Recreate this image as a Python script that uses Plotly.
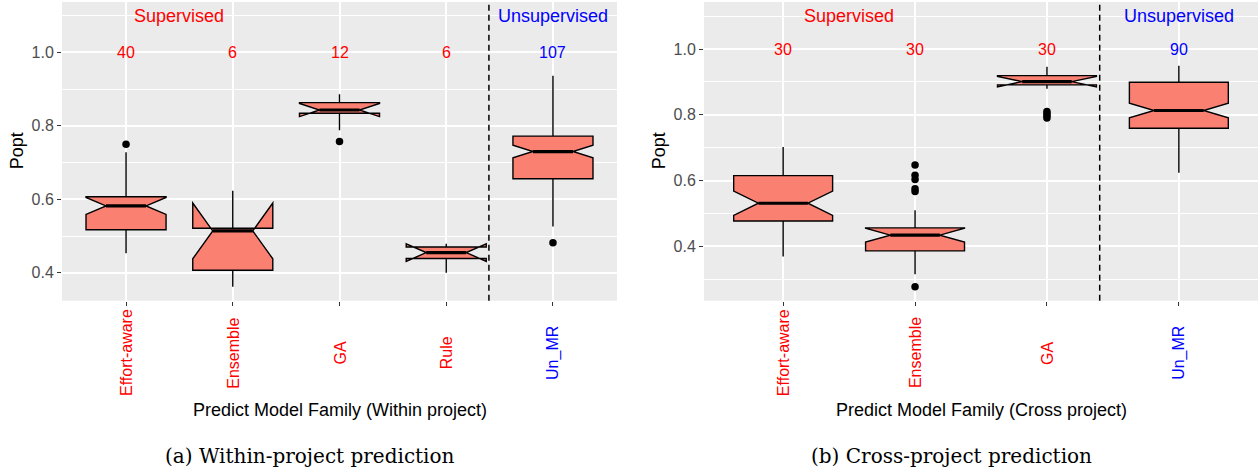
import plotly.graph_objects as go

# ---------------- data: within-project ----------------
within_cats = ["Effort-aware", "Ensemble", "GA", "Rule", "Un_MR"]
within_group = ["Supervised", "Supervised", "Supervised", "Supervised", "Unsupervised"]
within_counts = [40, 6, 12, 6, 107]
within_lowerfence = [0.453, 0.362, 0.788, 0.400, 0.526]
within_q1 = [0.517, 0.407, 0.834, 0.439, 0.656]
within_median = [0.582, 0.514, 0.843, 0.455, 0.730]
within_q3 = [0.607, 0.521, 0.863, 0.470, 0.772]
within_upperfence = [0.728, 0.623, 0.886, 0.478, 0.936]
within_notchspan = [0.023, 0.076, 0.018, 0.024, 0.017]
within_outlier_cat = ["Effort-aware", "GA", "Un_MR"]
within_outlier_val = [0.750, 0.757, 0.482]

# ---------------- data: cross-project ----------------
cross_cats = ["Effort-aware", "Ensemble", "GA", "Un_MR"]
cross_group = ["Supervised", "Supervised", "Supervised", "Unsupervised"]
cross_counts = [30, 30, 30, 90]
cross_lowerfence = [0.369, 0.315, 0.879, 0.624]
cross_q1 = [0.477, 0.386, 0.891, 0.759]
cross_median = [0.531, 0.434, 0.901, 0.813]
cross_q3 = [0.615, 0.456, 0.919, 0.899]
cross_upperfence = [0.702, 0.510, 0.946, 0.949]
cross_notchspan = [0.037, 0.021, 0.016, 0.022]
cross_outlier_cat = ["Ensemble"] * 6 + ["GA"] * 4
cross_outlier_val = [0.647, 0.616, 0.603, 0.575, 0.567, 0.277, 0.810, 0.803, 0.797, 0.790]

group_colors = {"Supervised": "#FF0000", "Unsupervised": "#0000FF"}
x_titles = ["Predict Model Family (Within project)", "Predict Model Family (Cross project)"]
captions = ["(a) Within-project prediction", "(b) Cross-project prediction"]
y_title = "Popt"

W, H = 1258, 470
BOX_W = 0.75
NOTCH_W = 0.25          # plotly: inset per side as fraction of box width
SANS = "Liberation Sans, Arial, sans-serif"
FILL = "#FA8072"

fig = go.Figure()

panels = [
    dict(cats=within_cats, grp=within_group, cnt=within_counts, lf=within_lowerfence, q1=within_q1,
         med=within_median, q3=within_q3, uf=within_upperfence, ns=within_notchspan,
         oc=within_outlier_cat, ov=within_outlier_val,
         px=(62, 617), yr=(0.324, 1.137), xa="x", ya="y"),
    dict(cats=cross_cats, grp=cross_group, cnt=cross_counts, lf=cross_lowerfence, q1=cross_q1,
         med=cross_median, q3=cross_q3, uf=cross_upperfence, ns=cross_notchspan,
         oc=cross_outlier_cat, ov=cross_outlier_val,
         px=(704, 1258), yr=(0.2346, 1.143), xa="x2", ya="y2"),
]

plot_top, plot_bot = 2, 300.7
ydom = [(H - plot_bot) / H, (H - plot_top) / H]
annotations = []
shapes = []

for i, p in enumerate(panels):
    pos = list(range(1, len(p["cats"]) + 1))
    fig.add_trace(go.Box(
        x=pos, q1=p["q1"], median=p["med"], q3=p["q3"],
        lowerfence=p["lf"], upperfence=p["uf"], notchspan=p["ns"],
        notched=True, notchwidth=NOTCH_W, width=BOX_W, whiskerwidth=0,
        fillcolor=FILL, line=dict(color="black", width=1.4),
        boxpoints=False, showlegend=False, xaxis=p["xa"], yaxis=p["ya"],
    ))
    # thick median segments (span the notch waist)
    mx, my = [], []
    half = BOX_W / 2 * (1 - 2 * NOTCH_W)
    for xp, m in zip(pos, p["med"]):
        mx += [xp - half, xp + half, None]
        my += [m, m, None]
    fig.add_trace(go.Scatter(x=mx, y=my, mode="lines", line=dict(color="black", width=3.2),
                             showlegend=False, xaxis=p["xa"], yaxis=p["ya"], hoverinfo="skip"))
    # outliers
    ox = [p["cats"].index(c) + 1 for c in p["oc"]]
    fig.add_trace(go.Scatter(x=ox, y=p["ov"], mode="markers",
                             marker=dict(color="black", size=7.5),
                             showlegend=False, xaxis=p["xa"], yaxis=p["ya"]))

    n_sup = sum(1 for g in p["grp"] if g == "Supervised")
    # dashed separator
    shapes.append(dict(type="line", xref=p["xa"], yref=p["ya"] + " domain",
                       x0=n_sup + 0.4, x1=n_sup + 0.4, y0=0, y1=1,
                       line=dict(color="black", width=1.5, dash="6px,4px")))
    # counts
    for xp, c, g in zip(pos, p["cnt"], p["grp"]):
        annotations.append(dict(x=xp, y=1.0, xref=p["xa"], yref=p["ya"], text=str(c),
                                showarrow=False, font=dict(family=SANS, size=16, color=group_colors[g])))
    # x category labels, centred vertically like ggplot angle=90
    for xp, c, g in zip(pos, p["cats"], p["grp"]):
        annotations.append(dict(x=xp, y=(H - 353) / H, xref=p["xa"], yref="paper", text=c,
                                textangle=-90, showarrow=False, xanchor="center", yanchor="middle",
                                font=dict(family=SANS, size=16, color=group_colors[g])))
    # group labels
    annotations.append(dict(x=1.5, y=1.1, xref=p["xa"], yref=p["ya"],
                            text="Supervised", showarrow=False,
                            font=dict(family=SANS, size=18, color=group_colors["Supervised"])))
    annotations.append(dict(x=len(p["cats"]), y=1.1, xref=p["xa"], yref=p["ya"],
                            text="Unsupervised", showarrow=False,
                            font=dict(family=SANS, size=18, color=group_colors["Unsupervised"])))
    x0, x1 = p["px"]
    cx = (x0 + x1) / 2
    # axis titles
    annotations.append(dict(x=cx / W, y=(H - 410) / H, xref="paper", yref="paper", text=x_titles[i],
                            showarrow=False, xanchor="center", yanchor="middle",
                            font=dict(family=SANS, size=18, color="black")))
    annotations.append(dict(x=(x0 - 45) / W, y=(H - (plot_top + plot_bot) / 2) / H, xref="paper", yref="paper",
                            text=y_title, textangle=-90, showarrow=False, xanchor="center", yanchor="middle",
                            font=dict(family=SANS, size=18, color="black")))
    annotations.append(dict(x=(cx - 30) / W, y=(H - 455.5) / H, xref="paper", yref="paper", text=captions[i],
                            showarrow=False, xanchor="center", yanchor="middle",
                            font=dict(family="DejaVu Serif, serif", size=20, color="black")))

    xkey = "xaxis" if p["xa"] == "x" else "xaxis2"
    ykey = "yaxis" if p["ya"] == "y" else "yaxis2"
    fig.update_layout(**{
        xkey: dict(domain=[x0 / W, x1 / W], range=[0.4, len(p["cats"]) + 0.6], anchor=p["ya"],
                   tickmode="array", tickvals=pos, showticklabels=False,
                   ticks="outside", ticklen=4, tickwidth=1, tickcolor="#333333",
                   showgrid=True, gridcolor="white", gridwidth=1.6, zeroline=False, showline=False),
        ykey: dict(domain=ydom, range=list(p["yr"]), anchor=p["xa"],
                   tickmode="array", tickvals=[0.4, 0.6, 0.8, 1.0], ticktext=["0.4", "0.6", "0.8", "1.0"],
                   ticks="outside", ticklen=4, tickwidth=1, tickcolor="#333333",
                   tickfont=dict(family=SANS, size=16, color="#4D4D4D"),
                   showgrid=True, gridcolor="white", gridwidth=1.6, zeroline=False, showline=False,
                   minor=dict(tickmode="array", tickvals=[0.3, 0.5, 0.7, 0.9, 1.1], showgrid=True,
                              gridcolor="white", gridwidth=0.8, ticks="")),
    })

fig.update_layout(width=W, height=H, margin=dict(l=0, r=0, t=0, b=0),
                  paper_bgcolor="white", plot_bgcolor="#EBEBEB",
                  annotations=annotations, shapes=shapes, showlegend=False)

fig.write_html("out.html")
